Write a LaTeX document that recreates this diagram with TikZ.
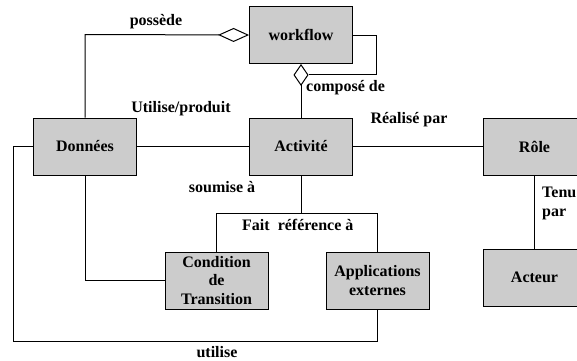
\documentclass[tikz,border=0pt]{standalone}
\usepackage{fontspec}
\setmainfont{Liberation Serif}
\usetikzlibrary{arrows.meta}
\definecolor{boxgray}{RGB}{204,204,204}
\begin{document}
\begin{tikzpicture}[x=1pt,y=-1pt,
  every node/.style={font=\fontsize{16}{18.5}\selectfont\bfseries, inner sep=0pt},
  box/.style={draw=black, line width=0.9pt, fill=boxgray, minimum width=103pt, minimum height=57pt, align=center},
  conn/.style={draw=black, line width=1pt},
  lbl/.style={anchor=center},
  agg/.style={{Diamond[open,fill=white,length=31pt,width=14pt,line width=1pt]}-},
  aggv/.style={{Diamond[open,fill=white,length=22pt,width=15pt,line width=1pt]}-}]
\clip (0,0) rectangle (577,360);
\useasboundingbox (0,0) rectangle (577,360);
% boxes
\node[box] (workflow) at (301,35) {workflow};
\node[box] (donnees) at (85,146.5) {Données};
\node[box] (activite) at (301,146.5) {Activité};
\node[box] (role) at (534.5,146.5) {Rôle};
\node[box] (condition) at (216.5,280.5) {Condition\\de\\Transition};
\node[box] (applications) at (377.5,280.5) {Applications\\externes};
\node[box] (acteur) at (534.5,277.5) {Acteur};
% helper coordinates
\coordinate (loopEnd) at (308.5,74);
% connectors
\draw[conn,agg] (workflow.west) -- (85,34.5) -- (donnees.north);
\draw[conn,aggv] (workflow.south) -- (activite.north);
\draw[conn] (workflow.east) -- (376,35) |- (loopEnd);
\draw[conn] (donnees.east) -- (activite.west);
\draw[conn] (activite.east) -- (role.west);
\draw[conn] (role.south) -- (acteur.north);
\draw[conn] (activite.south) -- (301,213);
\draw[conn] (condition.north) |- (applications.north |- 0,213) -- (applications.north);
\draw[conn] (donnees.south) |- (condition.west);
\draw[conn] (donnees.west) -- (13,146.5) |- (377.5,341) -- (applications.south);
% labels
\node[lbl] (lpossede) at (156,22) {possède};
\node[lbl] (lutilise) at (181,109) {Utilise/produit};
\node[anchor=west] (lcompose) at (306,88) {composé de};
\node[lbl] (lrealise) at (409,120) {Réalisé par};
\node[lbl] (lsoumise) at (222,187) {soumise à};
\node[anchor=west] (lfait) at (242,225) {Fait~ référence à};
\node[anchor=west, align=left] (ltenu) at (542,203.5) {Tenu\\par};
\node[lbl] (lutilise2) at (217,352) {utilise};
\end{tikzpicture}
\end{document}
